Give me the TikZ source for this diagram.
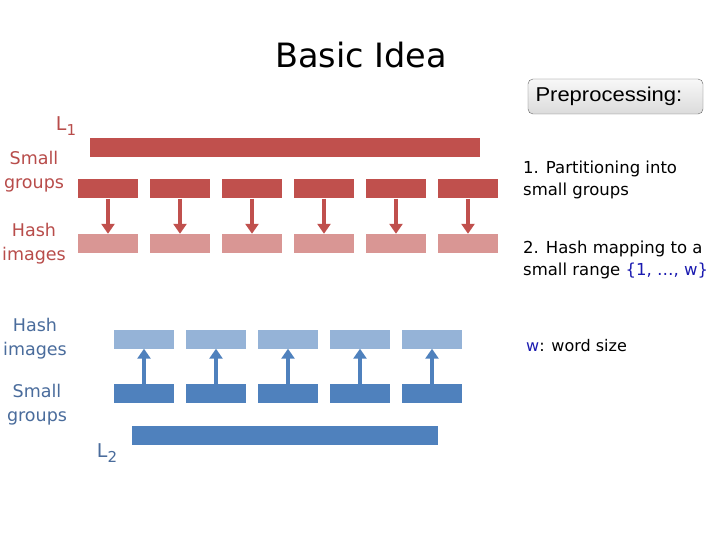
\documentclass[tikz,border=0pt]{standalone}
\usepackage{fontspec}
\setmainfont{DejaVu Sans}
\newfontfamily\arialfont{Liberation Sans}
\usetikzlibrary{arrows.meta}
\definecolor{gred}{HTML}{C0504D}
\definecolor{gredlight}{HTML}{D99694}
\definecolor{gblue}{HTML}{4F81BD}
\definecolor{gbluelight}{HTML}{95B3D7}
\definecolor{redtext}{HTML}{B84C4A}
\definecolor{bluetext}{HTML}{4A6C9C}
\definecolor{wblue}{HTML}{1A1AB0}
\tikzset{
  bar/.style={inner sep=0pt, minimum height=19pt},
  grp/.style={bar, minimum width=60pt},
  rarr/.style={-{Triangle[width=13pt,length=10pt]}, line width=3.5pt, gred},
  barr/.style={-{Triangle[width=13pt,length=10pt]}, line width=3.5pt, gblue},
  lbl/.style={align=center, inner sep=0pt, font=\fontsize{17.5}{24}\selectfont},
  note/.style={align=left, anchor=west, inner sep=0pt, font=\fontsize{16.5}{21.5}\selectfont},
}

\begin{document}
\begin{tikzpicture}[x=1pt, y=-1pt]
  \useasboundingbox[fill=white] (0,0) rectangle (720,540);

  \node[font=\fontsize{33.5}{36}\selectfont] (title) at (361,55) {Basic Idea};
  \node[draw=gray!80!black, rounded corners=5pt, top color=gray!6, bottom color=gray!28,
        minimum width=175pt, minimum height=35pt, text width=160pt, align=left,
        inner xsep=7.5pt, font=\arialfont\fontsize{20}{22}\selectfont] (prep) at (615.5,96.5)
    {\scalebox{1.1}[1]{Preprocessing:}};

  % L1 side
  \node[bar, fill=gred, minimum width=390pt] (l1) at (285,147.5) {};
  \foreach \i in {1,...,6} {
    \node[grp, fill=gred] (r\i) at ({108+72*(\i-1)},189) {};
    \node[grp, fill=gredlight] (rh\i) at ({108+72*(\i-1)},243.5) {};
    \draw[rarr] (r\i.south) -- (rh\i.north);
  }
  \node[lbl, redtext, font=\fontsize{19}{20}\selectfont] (l1lbl) at (66,126) {L\raisebox{-0.45ex}{\fontsize{15}{16}\selectfont 1}};
  \node[lbl, redtext] (rgrp) at (34,172) {Small\\groups};
  \node[lbl, redtext] (rhash) at (34,244) {Hash\\images};

  % L2 side
  \node[bar, fill=gblue, minimum width=306pt] (l2) at (285,435) {};
  \foreach \i in {1,...,5} {
    \node[grp, fill=gbluelight] (bh\i) at ({144+72*(\i-1)},339) {};
    \node[grp, fill=gblue] (b\i) at ({144+72*(\i-1)},393.5) {};
    \draw[barr] (b\i.north) -- (bh\i.south);
  }
  \node[lbl, bluetext] (bhash) at (35,339) {Hash\\images};
  \node[lbl, bluetext] (bgrp) at (37,405) {Small\\groups};
  \node[lbl, bluetext, font=\fontsize{19}{20}\selectfont] (l2lbl) at (107,453) {L\raisebox{-0.45ex}{\fontsize{15}{16}\selectfont 2}};

  % notes
  \node[note] (step1) at (523,180) {1. Partitioning into\\small groups};
  \node[note] (step2) at (523,260) {2. Hash mapping to a\\small range {\color{wblue}\{1, …, w\}}};
  \node[note, font=\fontsize{16}{18}\selectfont] (wsize) at (526,346) {{\color{wblue}w}: word size};
\end{tikzpicture}
\end{document}
